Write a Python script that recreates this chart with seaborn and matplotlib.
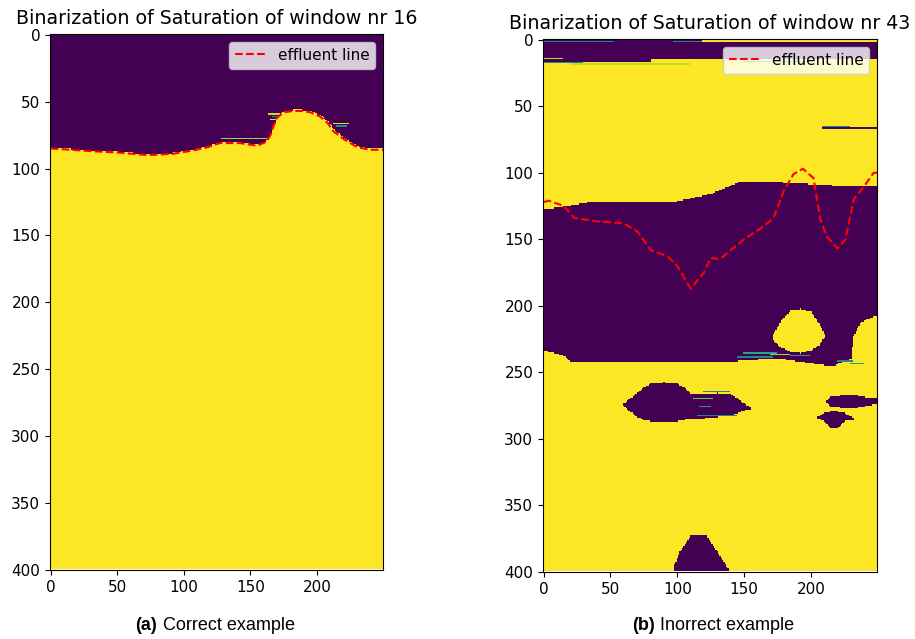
import numpy as np
import matplotlib
matplotlib.use("Agg")
import matplotlib.pyplot as plt
import seaborn as sns

plt.rcParams["font.family"] = ["DejaVu Sans"]

N_ROWS, N_COLS = 400, 250

# window 16: effluent line, also the dark/yellow boundary
line16_x = [0, 15, 30, 50, 73, 92, 107, 118, 127, 142, 155, 162, 165, 167, 170, 175, 182, 188, 195, 202, 208, 212, 220, 230, 240, 250]
line16_y = [85, 86, 87, 88, 90, 89, 86.5, 84, 81, 81, 83, 80, 75, 69, 62, 58, 57, 57, 58, 61, 66, 72, 78, 84, 86, 86]

# stripes drawn on top of the window 16 mask: row, col start, col end, value
stripes16_row = [78, 60, 62, 64, 67, 69]
stripes16_c0 = [128, 163, 166, 165, 212, 214]
stripes16_c1 = [163, 172, 170, 170, 224, 222]
stripes16_val = [0.85, 0.9, 0.5, 0.95, 0.95, 0.5]

# window 43: effluent line
line43_x = [0, 4, 15, 23, 40, 60, 70, 80, 93, 100, 110, 120, 125, 132, 140, 150, 165, 172, 180, 187, 194, 202, 207, 212, 220, 226, 232, 240, 247, 250]
line43_y = [122, 121, 125, 134, 136.5, 138, 144, 158, 163, 170, 187, 175, 164, 165, 158, 150, 140, 134, 113, 101, 97, 104, 135, 148, 157, 150, 120, 110, 100, 100]

# window 43: dark band at the top (rows above this are dark)
top43_x = [0, 80, 81, 249]
top43_y = [18, 18, 16, 16]

# window 43: large dark region, upper and lower edge
mid43_x = [0, 15, 35, 100, 125, 147, 170, 215, 249]
mid43_top = [128, 126, 122.5, 122, 116.5, 107.5, 107.5, 110, 111]
midlow_x = [0, 15, 20, 145, 175, 210, 217, 230, 232, 237, 249]
midlow_y = [234, 238, 242, 242, 240, 245, 245.5, 240.5, 223, 213, 208]

# window 43: yellow island inside the dark region
isl_x = [172, 178, 185, 192, 200, 206, 210]
isl_top = [222, 212, 204, 203, 205, 214, 222]
isl_bot = [226, 232, 235, 236, 234, 230, 224]

# window 43: dark blobs in the lower yellow area
blobA_x = [60, 65, 70, 75, 80, 90, 100, 105, 110, 120, 130, 140, 145, 150, 155]
blobA_top = [274, 270, 266, 262, 259, 258, 259, 262, 267, 267, 266, 267, 270, 274, 277]
blobA_bot = [275, 280, 284, 286, 287, 287, 287, 286, 285, 285, 284, 283, 281, 279, 278]
blobB_x = [212, 215, 222, 235, 245, 249]
blobB_top = [272, 269, 268, 268, 270, 270]
blobB_bot = [273, 276, 277, 277, 275, 274]
blobC_x = [205, 210, 215, 220, 225, 232]
blobC_top = [284, 281, 280, 280, 281, 285]
blobC_bot = [285, 287, 292, 292, 287, 286]
blobD_x = [98, 102, 107, 110, 115, 122, 125, 130, 135, 138]
blobD_top = [395, 385, 378, 373, 373, 373, 378, 385, 393, 398]

# window 43: stripes (row, col start, col end, value)
stripes43_row = [0, 1, 2, 2, 2, 15, 18, 19, 17, 67, 66, 236, 237, 239, 238, 270, 276, 283, 265, 242, 244]
stripes43_c0 = [119, 119, 119, 0, 97, 0, 0, 20, 150, 209, 209, 150, 170, 145, 185, 112, 117, 115, 120, 220, 230]
stripes43_c1 = [250, 250, 250, 53, 119, 15, 30, 110, 200, 250, 230, 175, 185, 172, 200, 127, 126, 145, 140, 232, 240]
stripes43_val = [1, 1, 1, 0.45, 0.45, 0.9, 0.45, 0.9, 0.45, 0, 0.45, 0.6, 0.85, 0.45, 0.55, 0.75, 0.55, 0.45, 0.45, 0.45, 0.55]


def add_stripes(img, rows, c0s, c1s, vals):
    for r, a, b, v in zip(rows, c0s, c1s, vals):
        img[r, a:b] = v


def span(img, xs, top, bot, value):
    cols = np.arange(xs[0], xs[-1] + 1)
    t = np.interp(cols, xs, top)
    b = np.interp(cols, xs, bot)
    rows = np.arange(N_ROWS)[:, None]
    m = (rows >= t[None, :]) & (rows <= b[None, :])
    sub = img[:, cols[0]:cols[-1] + 1]
    sub[m] = value


cols = np.arange(N_COLS)
rows = np.arange(N_ROWS)[:, None]

# window 16 mask
img16 = (rows >= np.interp(cols, line16_x, line16_y)[None, :]).astype(float)
add_stripes(img16, stripes16_row, stripes16_c0, stripes16_c1, stripes16_val)

# window 43 mask
img43 = np.ones((N_ROWS, N_COLS))
img43[(rows < np.interp(cols, top43_x, top43_y)[None, :])] = 0
mid_t = np.interp(cols, mid43_x, mid43_top)[None, :]
mid_b = np.interp(cols, midlow_x, midlow_y)[None, :]
img43[(rows >= mid_t) & (rows <= mid_b)] = 0
span(img43, isl_x, isl_top, isl_bot, 1)
span(img43, blobA_x, blobA_top, blobA_bot, 0)
span(img43, blobB_x, blobB_top, blobB_bot, 0)
span(img43, blobC_x, blobC_top, blobC_bot, 0)
span(img43, blobD_x, blobD_top, [399] * len(blobD_x), 0)
add_stripes(img43, stripes43_row, stripes43_c0, stripes43_c1, stripes43_val)

fig = plt.figure(figsize=(9.15, 6.39), dpi=100)
ax1 = fig.add_axes([50 / 915, 1 - 570 / 639, 333 / 915, 536 / 639])
ax2 = fig.add_axes([543 / 915, 1 - 572 / 639, 334 / 915, 533 / 639])

panels = [(ax1, img16, line16_x, line16_y, "Binarization of Saturation of window nr 16"),
          (ax2, img43, line43_x, line43_y, "Binarization of Saturation of window nr 43")]

for ax, img, lx, ly, title in panels:
    ax.imshow(img, cmap="viridis", vmin=0, vmax=1, aspect="auto", interpolation="nearest")
    sns.lineplot(x=lx, y=ly, ax=ax, color="red", linestyle="--", linewidth=1.5, label="effluent line")
    ax.set_xlim(-0.5, N_COLS - 0.5)
    ax.set_ylim(N_ROWS, -0.5)
    ax.set_xticks([0, 50, 100, 150, 200])
    ax.set_yticks([0, 50, 100, 150, 200, 250, 300, 350, 400])
    ax.tick_params(labelsize=11)
    ax.set_title(title, fontsize=13.7, pad=7)
    ax.legend(loc="upper right", fontsize=11)

# captions
cap_kw = dict(fontsize=13, family="Liberation Sans", va="center")
fig.text(157 / 915, 1 - 626 / 639, "(a)", fontweight="bold", ha="right", **cap_kw)
fig.text(163 / 915, 1 - 626 / 639, "Correct example", ha="left", **cap_kw)
fig.text(655 / 915, 1 - 626 / 639, "(b)", fontweight="bold", ha="right", **cap_kw)
fig.text(660 / 915, 1 - 626 / 639, "Inorrect example", ha="left", **cap_kw)

fig.savefig("out.png", dpi=100)
